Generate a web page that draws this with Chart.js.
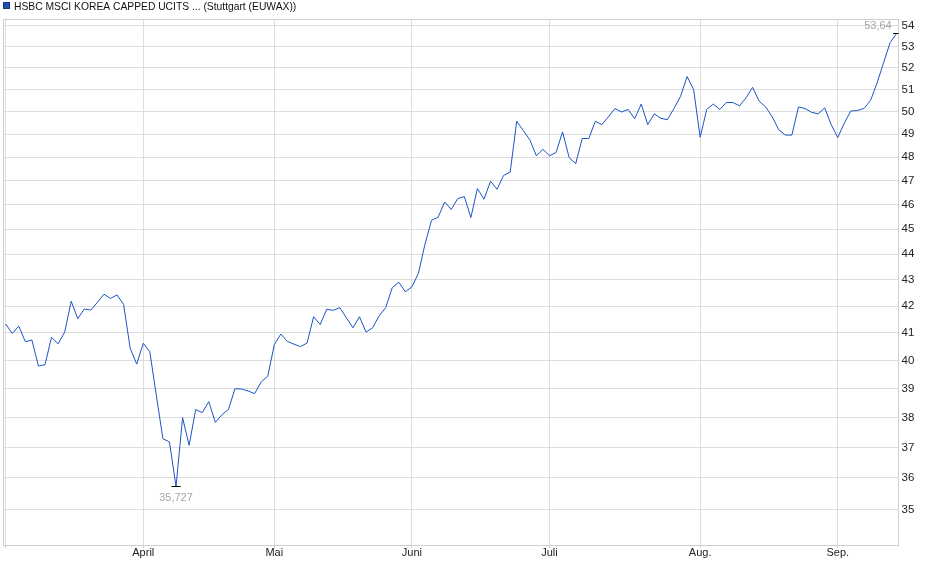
<!DOCTYPE html>
<html>
<head>
<meta charset="utf-8">
<script src="https://cdn.jsdelivr.net/npm/chart.js@4.4.1/dist/chart.umd.min.js"></script>
<style>
  html, body { margin: 0; padding: 0; background: #fff; }
</style>
</head>
<body>
<canvas id="chart" width="940" height="579"></canvas>
<script>
// Series name and daily closes (trading days, early March to mid September)
const seriesName = "HSBC MSCI KOREA CAPPED UCITS ... (Stuttgart (EUWAX))";
const prices = [
  41.33, 40.98, 41.25, 40.68, 40.74, 39.80, 39.85, 40.84, 40.60, 41.03,
  42.18, 41.53, 41.89, 41.85, 42.14, 42.45, 42.29, 42.42, 42.06, 40.44,
  39.87, 40.62, 40.31, 38.75, 37.29, 37.18, 35.727, 38.00, 37.07, 38.28,
  38.17, 38.55, 37.84, 38.10, 38.28, 39.00, 38.99, 38.92, 38.83, 39.24,
  39.44, 40.57, 40.96, 40.69, 40.59, 40.50, 40.63, 41.60, 41.31, 41.88,
  41.84, 41.94, 41.56, 41.19, 41.60, 41.03, 41.19, 41.63, 41.94, 42.70,
  42.91, 42.54, 42.73, 43.25, 44.40, 45.36, 45.48, 46.11, 45.80, 46.25,
  46.33, 45.47, 46.67, 46.22, 46.97, 46.64, 47.22, 47.36, 49.57, 49.16,
  48.75, 48.06, 48.34, 48.06, 48.20, 49.10, 47.98, 47.72, 48.81, 48.81,
  49.57, 49.42, 49.77, 50.14, 49.98, 50.10, 49.68, 50.34, 49.42, 49.90,
  49.70, 49.64, 50.14, 50.69, 51.60, 51.00, 48.86, 50.10, 50.34, 50.10,
  50.41, 50.41, 50.26, 50.62, 51.10, 50.47, 50.21, 49.76, 49.19, 48.96,
  48.96, 50.21, 50.14, 49.97, 49.90, 50.17, 49.42, 48.85, 49.49, 50.03,
  50.05, 50.14, 50.50, 51.30, 52.25, 53.20, 53.64
];

// first trading day of each month (index into prices) and its label
const monthIdx = [0, 21, 41, 62, 83, 106, 127];
const monthLabels = ["", "April", "Mai", "Juni", "Juli", "Aug.", "Sep."];

// y axis (logarithmic) tick values
const yTicks = [35, 36, 37, 38, 39, 40, 41, 42, 43, 44, 45, 46, 47, 48, 49, 50, 51, 52, 53, 54];

const lowText = "35,727";
const highText = "53,64";

const points = prices.map((p, i) => ({ x: i, y: p }));
const lowIdx = prices.indexOf(Math.min(...prices));
const highIdx = prices.indexOf(Math.max(...prices));

const FONT = "'Liberation Sans', Arial, sans-serif";

// frame, legend and min/max markers
const extras = {
  id: "extras",
  beforeDatasetsDraw(chart) {
    const { ctx, chartArea: a } = chart;
    ctx.save();
    ctx.strokeStyle = "#cfcfcf";
    ctx.lineWidth = 1;
    ctx.beginPath();
    ctx.moveTo(Math.round(a.left) + 0.5, Math.round(a.bottom) + 0.5);
    ctx.lineTo(Math.round(a.left) + 0.5, Math.round(a.top) + 0.5);
    ctx.lineTo(Math.round(a.right) + 0.5, Math.round(a.top) + 0.5);
    ctx.stroke();
    ctx.restore();
  },
  afterDraw(chart) {
    const { ctx } = chart;
    const xs = chart.scales.x, ys = chart.scales.y;
    ctx.save();
    // legend
    ctx.fillStyle = "#1f50b0";
    ctx.fillRect(3, 2, 7, 7);
    ctx.strokeStyle = "#163a7e";
    ctx.strokeRect(3.5, 2.5, 6, 6);
    ctx.fillStyle = "#111";
    ctx.font = "10.3px " + FONT;
    ctx.textBaseline = "alphabetic";
    ctx.textAlign = "left";
    ctx.fillText(seriesName, 14, 10);

    // low marker
    let px = xs.getPixelForValue(lowIdx), py = ys.getPixelForValue(prices[lowIdx]);
    ctx.strokeStyle = "#000";
    ctx.lineWidth = 1;
    ctx.beginPath();
    ctx.moveTo(px - 4.5, Math.round(py) + 0.5);
    ctx.lineTo(px + 4.5, Math.round(py) + 0.5);
    ctx.stroke();
    ctx.fillStyle = "#a6a6a6";
    ctx.font = "11px " + FONT;
    ctx.textAlign = "center";
    ctx.fillText(lowText, px, py + 15);

    // high marker
    px = xs.getPixelForValue(highIdx); py = ys.getPixelForValue(prices[highIdx]);
    ctx.beginPath();
    ctx.moveTo(px - 3.5, Math.round(py) + 0.5);
    ctx.lineTo(Math.min(px + 2.5, chart.chartArea.right), Math.round(py) + 0.5);
    ctx.stroke();
    ctx.textAlign = "right";
    ctx.fillText(highText, px - 5, py - 4);
    ctx.restore();
  }
};

new Chart(document.getElementById("chart").getContext("2d"), {
  type: "line",
  data: {
    datasets: [{
      label: seriesName,
      data: points,
      borderColor: "#1a55c4",
      borderWidth: 1,
      pointRadius: 0,
      tension: 0,
      fill: false
    }]
  },
  options: {
    responsive: false,
    animation: false,
    layout: { padding: { top: 19, left: 3, right: 0, bottom: 0 } },
    plugins: { legend: { display: false }, tooltip: { enabled: false } },
    scales: {
      x: {
        type: "linear",
        min: -0.41,
        max: 136.27,
        afterBuildTicks: s => { s.ticks = monthIdx.map(v => ({ value: v })); },
        afterFit: s => { s.height = 34; },
        ticks: {
          autoSkip: false,
          maxRotation: 0,
          padding: -2,
          color: "#222",
          font: { family: FONT, size: 11 },
          callback: v => monthLabels[monthIdx.indexOf(v)]
        },
        grid: { color: "#dddddd", tickLength: 3, tickColor: "#cfcfcf" },
        border: { color: "#cfcfcf" }
      },
      y: {
        type: "logarithmic",
        position: "right",
        min: 33.9,
        max: 54.33,
        afterBuildTicks: s => { s.ticks = yTicks.map(v => ({ value: v })); },
        afterFit: s => { s.width = 41.5; },
        ticks: {
          padding: 3,
          color: "#222",
          font: { family: FONT, size: 11.5 },
          callback: v => String(v)
        },
        grid: { color: "#dddddd", drawTicks: false },
        border: { color: "#cfcfcf" }
      }
    }
  },
  plugins: [extras]
});
</script>
</body>
</html>
